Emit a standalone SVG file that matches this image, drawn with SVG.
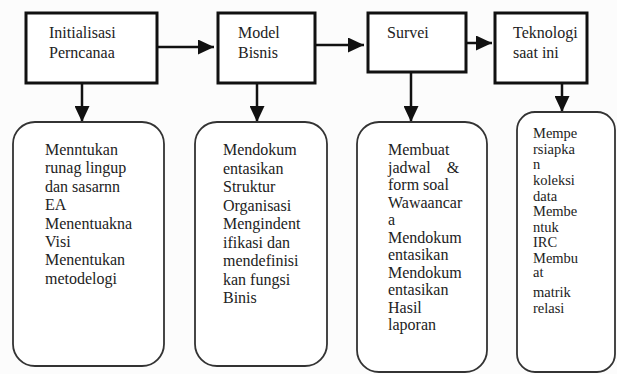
<svg xmlns="http://www.w3.org/2000/svg" width="617" height="374" viewBox="0 0 617 374">
<defs>
<style>
.top{fill:#fff;stroke:#111;stroke-width:3}
.card{fill:#fff;stroke:#333;stroke-width:1.8}
.t{font-size:16px;fill:#222}
.s{font-size:14.5px}
.c{stroke:#111;stroke-width:2.5;fill:none}
</style>
<marker id="ah" markerUnits="userSpaceOnUse" markerWidth="16" markerHeight="15" refX="16" refY="7.5" orient="auto">
<path d="M0,0 L16,7.5 L0,15 z" fill="#111"/>
</marker>
</defs>
<rect width="617" height="374" fill="#fcfcfc"/>
<g id="connectors">
<line class="c" x1="157" y1="47" x2="214" y2="47" marker-end="url(#ah)"/>
<line class="c" x1="315" y1="45" x2="364" y2="45" marker-end="url(#ah)"/>
<line class="c" x1="466" y1="43" x2="492" y2="43" marker-end="url(#ah)"/>
<line class="c" x1="82" y1="83" x2="82" y2="122" marker-end="url(#ah)"/>
<line class="c" x1="257" y1="83" x2="257" y2="122" marker-end="url(#ah)"/>
<line class="c" x1="411" y1="72" x2="411" y2="122" marker-end="url(#ah)"/>
<line class="c" x1="562" y1="83" x2="562" y2="112" marker-end="url(#ah)"/>
</g>
<g font-family="'Liberation Serif', 'DejaVu Serif', serif">
<g id="n1">
<rect class="top" x="26" y="13" width="131" height="70"/>
<text class="t" x="49" y="38">Initialisasi</text>
<text class="t" x="49" y="58">Perncanaa</text>
</g>
<g id="n2">
<rect class="top" x="218" y="13" width="97" height="70"/>
<text class="t" x="238" y="38">Model</text>
<text class="t" x="238" y="58">Bisnis</text>
</g>
<g id="n3">
<rect class="top" x="368" y="13" width="98" height="59"/>
<text class="t" x="387" y="38">Survei</text>
</g>
<g id="n4">
<rect class="top" x="495" y="13" width="92" height="70"/>
<text class="t" x="513" y="38">Teknologi</text>
<text class="t" x="513" y="58">saat ini</text>
</g>
<g id="n5">
<rect class="card" x="13" y="122" width="151" height="244" rx="22"/>
<text class="t" x="45" y="155">Menntukan</text>
<text class="t" x="45" y="173.4">runag lingup</text>
<text class="t" x="45" y="191.8">dan sasarnn</text>
<text class="t" x="45" y="210.2">EA</text>
<text class="t" x="45" y="228.6">Menentuakna</text>
<text class="t" x="45" y="247">Visi</text>
<text class="t" x="45" y="265.4">Menentukan</text>
<text class="t" x="45" y="283.8">metodelogi</text>
</g>
<g id="n6">
<rect class="card" x="195" y="122" width="132" height="244" rx="22"/>
<text class="t" x="223" y="155">Mendokum</text>
<text class="t" x="223" y="173.5">entasikan</text>
<text class="t" x="223" y="192">Struktur</text>
<text class="t" x="223" y="210.5">Organisasi</text>
<text class="t" x="223" y="229">Mengindent</text>
<text class="t" x="223" y="247.5">ifikasi dan</text>
<text class="t" x="223" y="266">mendefinisi</text>
<text class="t" x="223" y="284.5">kan fungsi</text>
<text class="t" x="223" y="303">Binis</text>
</g>
<g id="n7">
<rect class="card" x="357" y="122" width="130" height="250" rx="22"/>
<text class="t" x="388" y="155">Membuat</text>
<text class="t" x="388" y="172.5" xml:space="preserve">jadwal    &amp;</text>
<text class="t" x="388" y="190">form soal</text>
<text class="t" x="388" y="207.5">Wawaancar</text>
<text class="t" x="388" y="225">a</text>
<text class="t" x="388" y="242.5">Mendokum</text>
<text class="t" x="388" y="260">entasikan</text>
<text class="t" x="388" y="277.5">Mendokum</text>
<text class="t" x="388" y="295">entasikan</text>
<text class="t" x="388" y="312.5">Hasil</text>
<text class="t" x="388" y="330">laporan</text>
</g>
<g id="n8">
<rect class="card" x="517" y="112" width="98" height="260" rx="18"/>
<text class="t s" x="533" y="138">Mempe</text>
<text class="t s" x="533" y="153.5">rsiapka</text>
<text class="t s" x="533" y="169">n</text>
<text class="t s" x="533" y="185">koleksi</text>
<text class="t s" x="533" y="200.5">data</text>
<text class="t s" x="533" y="216">Membe</text>
<text class="t s" x="533" y="231.5">ntuk</text>
<text class="t s" x="533" y="247">IRC</text>
<text class="t s" x="533" y="262.5">Membu</text>
<text class="t s" x="533" y="277">at</text>
<text class="t s" x="533" y="297">matrik</text>
<text class="t s" x="533" y="312.5">relasi</text>
</g>
</g>
</svg>
